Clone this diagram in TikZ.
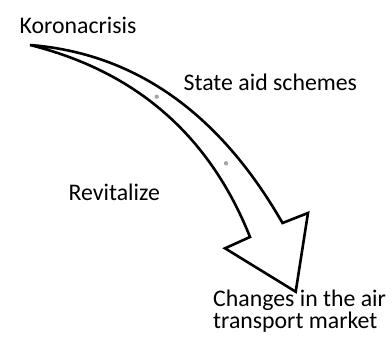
\documentclass[tikz,border=0pt]{standalone}
\usepackage{fontspec}
\setmainfont{Carlito}
\begin{document}
\begin{tikzpicture}[x=1pt,y=-1pt,
  label/.style={anchor=base west,inner sep=0pt,font=\fontsize{23.8}{19.5}\selectfont},
  outline/.style={draw=black,line width=2.6pt,line join=miter,fill=white},
  marker/.style={fill=black!35,draw=none}]
\useasboundingbox (0,0) rectangle (392,338);

% curved block arrow
\coordinate (tail) at (30,45);
\coordinate (outerend) at (282.5,223);
\coordinate (barbout) at (308,213);
\coordinate (tip) at (295.7,291.7);
\coordinate (barbin) at (225,248.3);
\coordinate (innerend) at (250,237);

\draw[outline] (tail) .. controls (134.5,53.3) and (218.9,112.2) .. (outerend)
  -- (barbout) -- (tip) -- (barbin) -- (innerend)
  .. controls (209.5,135.4) and (136.1,71.5) .. (tail) -- cycle;

% small guide dots on the band
\fill[marker] (156.7,96.7) circle (2.2);
\fill[marker] (226,163.3) circle (2.2);

% labels
\node[label] (crisis) at (19.5,33.3) {Koronacrisis};
\node[label] (aid) at (183.5,90.7) {State aid schemes};
\node[label] (revit) at (68.5,200) {Revitalize};
\node[label,align=left] (market) at (213,328) {Changes in the air\\transport market};
\end{tikzpicture}
\end{document}
